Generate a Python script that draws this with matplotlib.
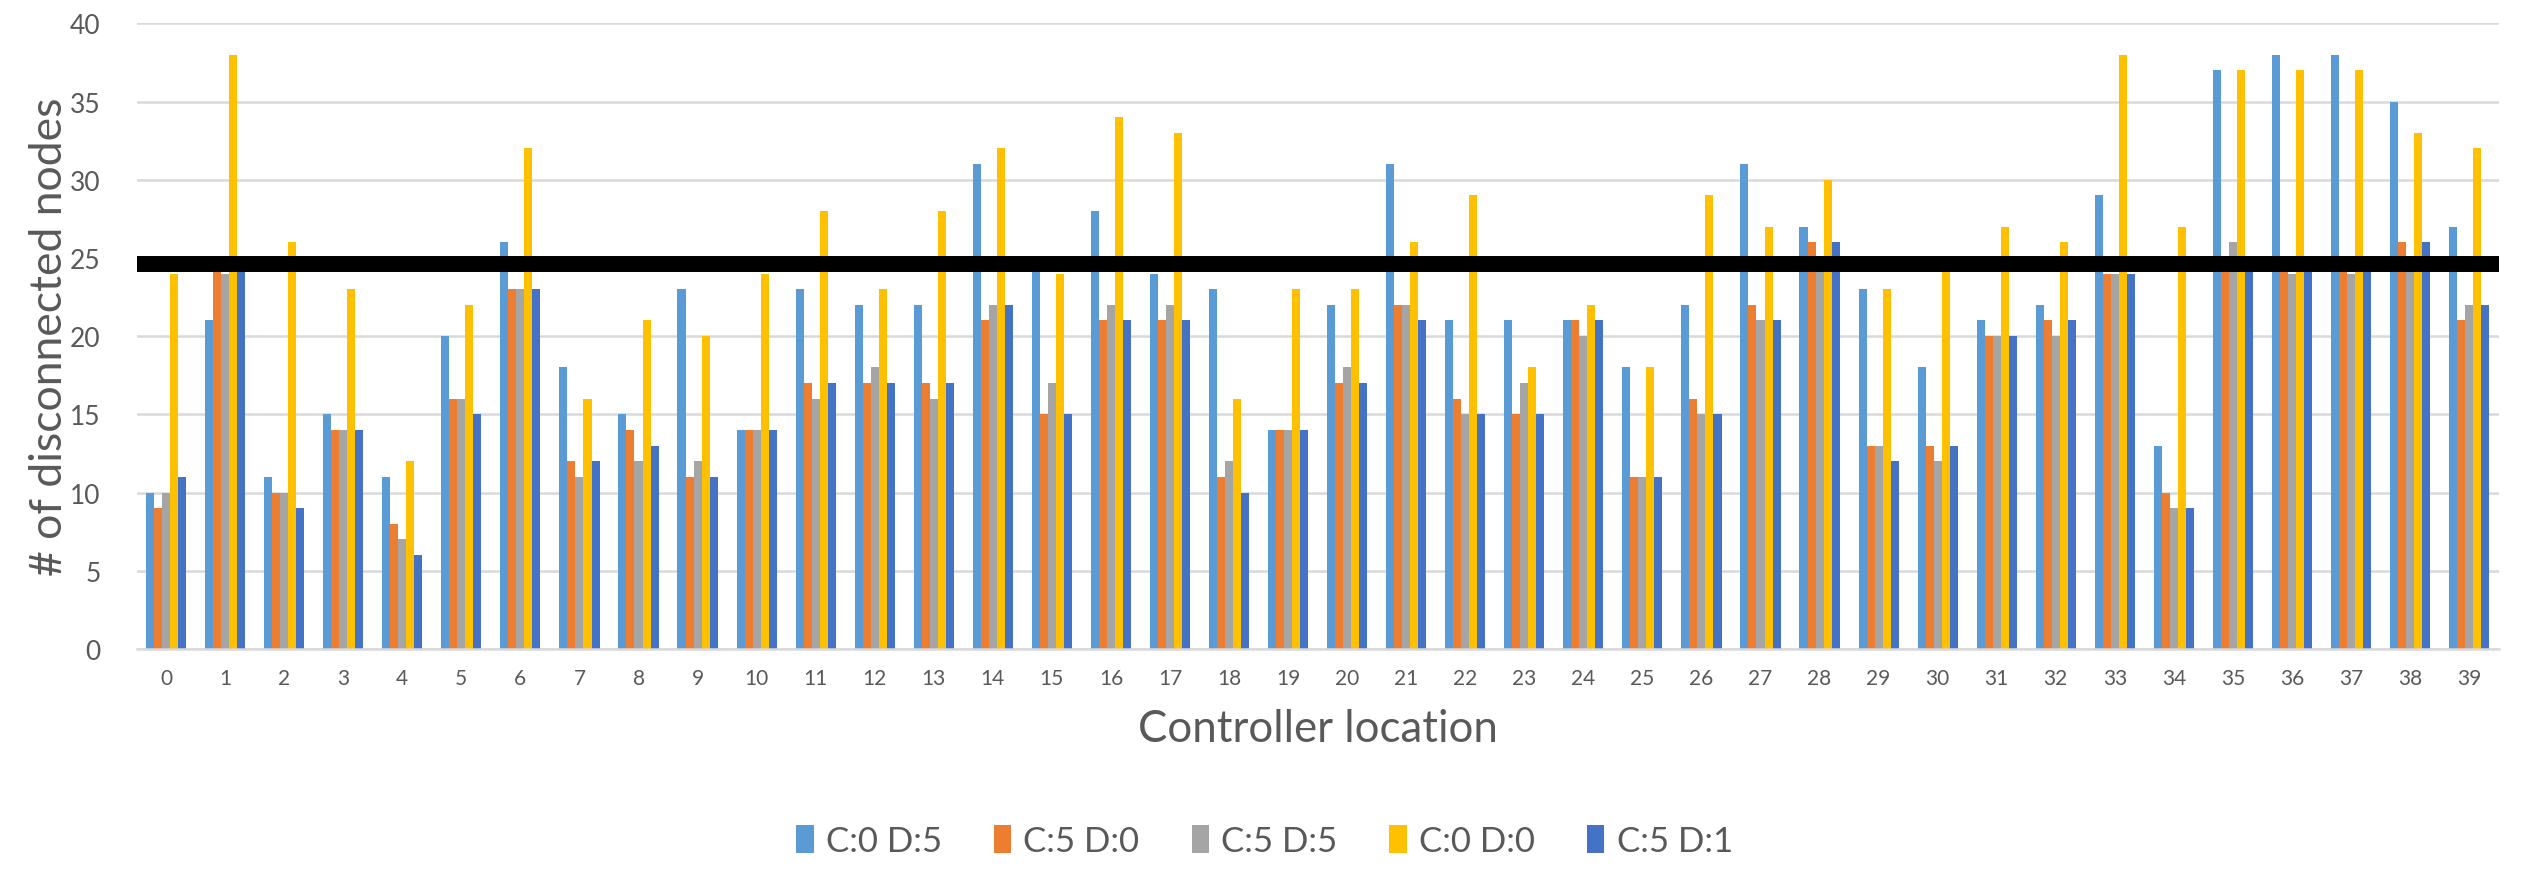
import numpy as np
import matplotlib
matplotlib.use("Agg")
from matplotlib import pyplot as plt

plt.rcParams['font.family'] = ['Lato', 'DejaVu Sans']

# data
locations = [str(i) for i in range(40)]
series_names = ["C:0 D:5", "C:5 D:0", "C:5 D:5", "C:0 D:0", "C:5 D:1"]

c0_d5 = [10, 21, 11, 15, 11, 20, 26, 18, 15, 23, 14, 23, 22, 22, 31, 25, 28, 24, 23, 14,
         22, 31, 21, 21, 21, 18, 22, 31, 27, 23, 18, 21, 22, 29, 13, 37, 38, 38, 35, 27]
c5_d0 = [9, 25, 10, 14, 8, 16, 23, 12, 14, 11, 14, 17, 17, 17, 21, 15, 21, 21, 11, 14,
         17, 22, 16, 15, 21, 11, 16, 22, 26, 13, 13, 20, 21, 24, 10, 25, 25, 25, 26, 21]
c5_d5 = [10, 24, 10, 14, 7, 16, 23, 11, 12, 12, 14, 16, 18, 16, 22, 17, 22, 22, 12, 14,
         18, 22, 15, 17, 20, 11, 15, 21, 25, 13, 12, 20, 20, 24, 9, 26, 24, 24, 25, 22]
c0_d0 = [24, 38, 26, 23, 12, 22, 32, 16, 21, 20, 24, 28, 23, 28, 32, 24, 34, 33, 16, 23,
         23, 26, 29, 18, 22, 18, 29, 27, 30, 23, 25, 27, 26, 38, 27, 37, 37, 37, 33, 32]
c5_d1 = [11, 25, 9, 14, 6, 15, 23, 12, 13, 11, 14, 17, 17, 17, 22, 15, 21, 21, 10, 14,
         17, 21, 15, 15, 21, 11, 15, 21, 26, 12, 13, 20, 21, 24, 9, 25, 25, 25, 26, 22]

threshold = 24.63

all_series = [c0_d5, c5_d0, c5_d5, c0_d0, c5_d1]
colors = ["#5B9BD5", "#ED7D31", "#A5A5A5", "#FFC000", "#4472C4"]

fig = plt.figure(figsize=(25.29, 8.70), dpi=100)
ax = fig.add_axes([0.054, 0.253, 0.934, 0.719])

x = np.arange(len(locations))
w = 0.136
for i in range(5):
    ax.bar(x + (i - 2) * w, all_series[i], width=w, color=colors[i],
           label=series_names[i], zorder=2)

# thick black threshold line
ax.axhline(threshold, color="black", linewidth=11.5, zorder=3)

ax.set_xlim(-0.5, len(locations) - 0.5)
ax.set_ylim(0, 40)
ax.set_yticks(range(0, 41, 5))
ax.set_xticks(x)
ax.set_xticklabels(locations)

ax.grid(axis="y", color="#D9D9D9", linewidth=1.8, zorder=0)
ax.set_axisbelow(True)
for s in ["top", "right", "left"]:
    ax.spines[s].set_visible(False)
ax.spines["bottom"].set_color("#D9D9D9")
ax.spines["bottom"].set_linewidth(1.8)

ax.tick_params(axis="y", length=0, pad=26, labelsize=19, labelcolor="#595959")
ax.tick_params(axis="x", length=0, pad=14, labelsize=15, labelcolor="#595959")

ax.set_xlabel("Controller location", fontsize=31.5, color="#595959", labelpad=14)
ax.set_ylabel("# of disconnected nodes", fontsize=32, color="#595959", labelpad=0)

fig.legend(loc="center", bbox_to_anchor=(0.5, 0.032), ncol=5, frameon=False,
           fontsize=25, handlelength=0.5, handleheight=0.85, handletextpad=0.35,
           columnspacing=1.5, labelcolor="#595959")

fig.savefig("out.png", dpi=100)
